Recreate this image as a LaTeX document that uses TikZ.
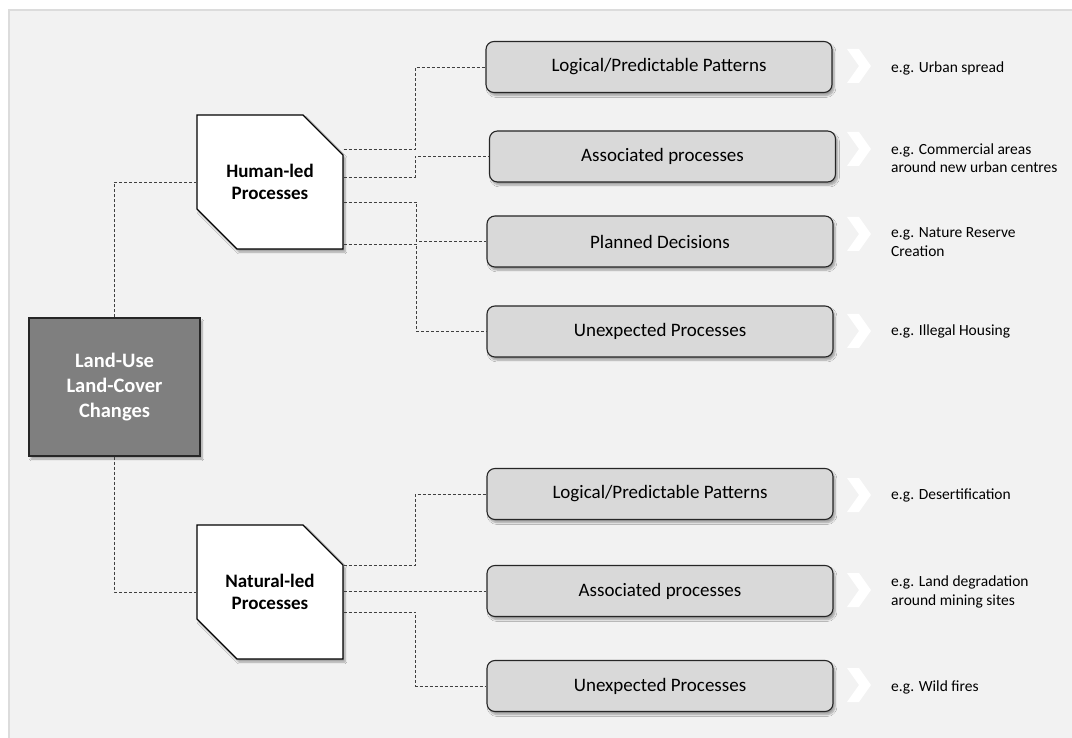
\documentclass[tikz,border=0pt]{standalone}
\usepackage{fontspec}
\setmainfont{Carlito}
\usetikzlibrary{shapes.misc,shadows.blur}

\definecolor{panelbg}{HTML}{F2F2F2}
\definecolor{panelrule}{HTML}{DCDCDC}
\definecolor{boxfill}{HTML}{D9D9D9}
\definecolor{rootfill}{HTML}{7F7F7F}
\definecolor{edge}{HTML}{262626}
\definecolor{linkcol}{HTML}{404040}

\tikzset{
  shade/.style={blur shadow={shadow xshift=2pt, shadow yshift=-3pt, shadow blur steps=6, shadow opacity=35}},
  rootbox/.style={draw=edge, line width=1.1pt, fill=rootfill, minimum width=171pt, minimum height=138pt,
    inner sep=0pt, text=white, font=\fontsize{20.5}{25}\selectfont\bfseries, align=center, shade},
  groupbox/.style={chamfered rectangle, chamfered rectangle corners={north east,south west},
    chamfered rectangle xsep=22pt, chamfered rectangle ysep=22pt,
    draw=black, line width=1.3pt, fill=white, minimum width=146pt, minimum height=134pt,
    inner sep=0pt, font=\fontsize{19}{22.5}\selectfont\bfseries, align=center, shade},
  procbox/.style={draw=edge, line width=1.1pt, fill=boxfill, rounded corners=8pt,
    minimum width=346pt, minimum height=51pt, inner sep=0pt,
    font=\fontsize{19}{22}\selectfont, shade},
  example/.style={anchor=west, align=left, inner sep=0pt, font=\fontsize{15.5}{18.5}\selectfont},
  link/.style={draw=linkcol, line width=0.8pt, dash pattern=on 3pt off 2pt},
  chevron/.style={fill=white}
}

\begin{document}
\begin{tikzpicture}[x=1pt, y=-1pt]
\useasboundingbox (0,0) rectangle (1072,738);

% background panel
\fill[panelbg] (9,10) rectangle (1072,738);
\draw[panelrule, line width=1.5pt] (9,738) -- (9,10) -- (1072,10);

% root and the two groups
\node[rootbox] (root) at (114.5,387) {Land-Use\\Land-Cover\\Changes};
\node[groupbox] (human) at (270,182) {Human-led\\Processes};
\node[groupbox] (natural) at (270,592) {Natural-led\\Processes};

% process boxes
\node[procbox] (h1) at (659,67)    {Logical/Predictable Patterns};
\node[procbox] (h2) at (662.5,156.5) {Associated processes};
\node[procbox] (h3) at (660,241.5) {Planned Decisions};
\node[procbox] (h4) at (660,331.5) {Unexpected Processes};
\node[procbox] (n1) at (660,494)   {Logical/Predictable Patterns};
\node[procbox] (n2) at (660,591)   {Associated processes};
\node[procbox] (n3) at (660,686)   {Unexpected Processes};

% chevrons
\foreach \y in {66,149,234,331,495,590,685}{
  \fill[chevron] (847,\y-17) -- (859,\y-17) -- (871,\y) -- (859,\y+17) -- (847,\y+17) -- (859,\y) -- cycle;
}

% examples
\node[example] (e1) at (891,68)  {e.g. Urban spread};
\node[example] (e2) at (891,158) {e.g. Commercial areas\\around new urban centres};
\node[example] (e3) at (891,242) {e.g. Nature Reserve\\Creation};
\node[example] (e4) at (891,331) {e.g. Illegal Housing};
\node[example] (e5) at (891,495) {e.g. Desertification};
\node[example] (e6) at (891,592) {e.g. Land degradation\\around mining sites};
\node[example] (e7) at (891,687) {e.g. Wild fires};

% root to groups
\draw[link] (root.north) |- (human.west);
\draw[link] (root.south) |- (natural.west);

% human-led branches
\draw[link] ([yshift=33pt]human.east) -| ([xshift=-70pt]h1.west) -- (h1.west);
\draw[link] ([yshift=5pt]human.east)  -| ([xshift=-74pt]h2.west) -- (h2.west);
\draw[link] ([yshift=-20pt]human.east) -| ([xshift=-70pt]h3.west) -- (h3.west);
\draw[link] ([yshift=-62pt]human.east) -| ([xshift=-70pt]h4.west) -- (h4.west);

% natural-led branches
\draw[link] ([yshift=27pt]natural.east) -| ([xshift=-71pt]n1.west) -- (n1.west);
\draw[link] (natural.east |- n2.west) -- (n2.west);
\draw[link] ([yshift=-20pt]natural.east) -| ([xshift=-71pt]n3.west) -- (n3.west);
\end{tikzpicture}
\end{document}
